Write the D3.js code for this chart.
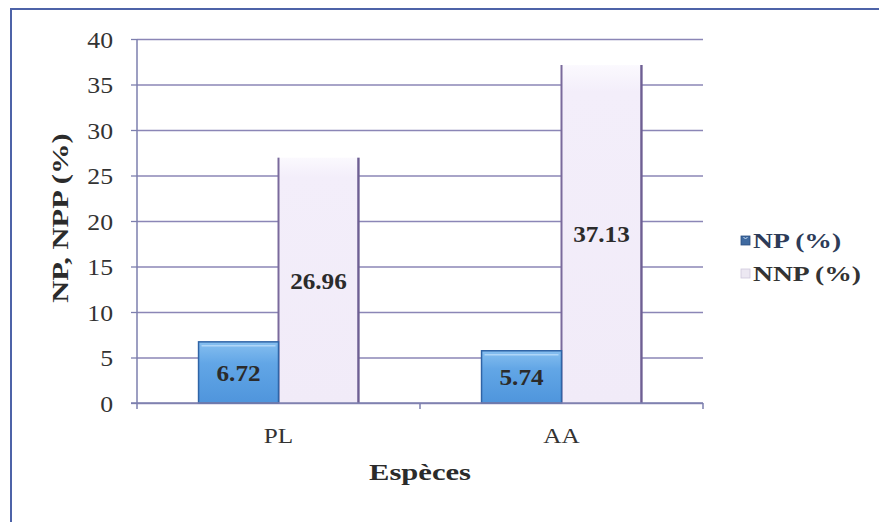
<!DOCTYPE html>
<html>
<head>
<meta charset="utf-8">
<script src="https://cdn.jsdelivr.net/npm/d3@7"></script>
<style>
  html, body { margin: 0; padding: 0; background: #ffffff; }
  svg { display: block; }
  svg text { font-family: "Liberation Serif", "Times New Roman", serif; }
</style>
</head>
<body>
<svg id="chart" width="879" height="522"></svg>
<script>
// Species and measured percentages
const categories = ["PL", "AA"];
const seriesNames = ["NP (%)", "NNP (%)"];
const npValues = [6.72, 5.74];
const nnpValues = [26.96, 37.13];
const yTicks = [0, 5, 10, 15, 20, 25, 30, 35, 40];
const yTitle = "NP, NPP (%)";
const xTitle = "Espèces";

const serif = "'Liberation Serif', 'Times New Roman', serif";
const svg = d3.select("#chart");
const defs = svg.append("defs");

// Outer frame
svg.append("rect")
  .attr("x", 11).attr("y", 9)
  .attr("width", 900).attr("height", 600)
  .attr("fill", "none")
  .attr("stroke", "#4d63a8")
  .attr("stroke-width", 2);

const plot = { left: 137, right: 703, top: 39, bottom: 403 };

const y = d3.scaleLinear().domain([0, 40]).range([plot.bottom, plot.top]);
const x = d3.scaleBand().domain(categories).range([plot.left, plot.right]).paddingInner(0).paddingOuter(0);
const xs = d3.scaleBand().domain(seriesNames).range([0, x.bandwidth()]).paddingInner(0).paddingOuter(0.77);

// Gradients for the two series
const npGrad = defs.append("linearGradient").attr("id", "npGrad").attr("x1", 0).attr("y1", 0).attr("x2", 0).attr("y2", 1);
npGrad.append("stop").attr("offset", "0%").attr("stop-color", "#86bff0");
npGrad.append("stop").attr("offset", "35%").attr("stop-color", "#62a6e6");
npGrad.append("stop").attr("offset", "100%").attr("stop-color", "#4f95dc");

const nnpGrad = defs.append("linearGradient").attr("id", "nnpGrad").attr("x1", 0).attr("y1", 0).attr("x2", 0).attr("y2", 1);
nnpGrad.append("stop").attr("offset", "0%").attr("stop-color", "#fbf9fe");
nnpGrad.append("stop").attr("offset", "8%").attr("stop-color", "#f3eefa");
nnpGrad.append("stop").attr("offset", "100%").attr("stop-color", "#f1ebf8");

const gridColor = "#8b86b6";
const axisColor = "#7d7fae";
const textColor = "#333333";

// Horizontal gridlines with outside ticks
const yAxis = d3.axisLeft(y).tickValues(yTicks).tickSize(-(plot.right - plot.left)).tickSizeOuter(0).tickFormat("");
const gY = svg.append("g").attr("transform", `translate(${plot.left},0)`).call(yAxis)
  .attr("font-family", serif);
gY.select(".domain").remove();
gY.selectAll(".tick line").attr("stroke", gridColor).attr("stroke-width", 1.3);
gY.selectAll(".tick").append("line")
  .attr("x1", -6).attr("x2", 0).attr("stroke", axisColor).attr("stroke-width", 1.3);

// Tick labels, slightly widened serif
gY.selectAll(".tick").append("text")
  .attr("fill", textColor)
  .attr("font-family", serif)
  .attr("font-size", 23)
  .attr("text-anchor", "end")
  .attr("dominant-baseline", "central")
  .attr("transform", "translate(-24,0) scale(1.12,1)")
  .attr("x", 0)
  .text(d => d);

// Bars
const groups = svg.append("g").selectAll("g")
  .data(categories)
  .join("g")
  .attr("transform", d => `translate(${x(d)},0)`);

// NNP bars (pale, dark purple sides)
groups.each(function (c, i) {
  const g = d3.select(this);
  const x0 = xs("NNP (%)"), w = xs.bandwidth();
  const yTop = y(nnpValues[i]);
  g.append("rect")
    .attr("x", x0).attr("y", yTop)
    .attr("width", w).attr("height", y(0) - yTop)
    .attr("fill", "url(#nnpGrad)");
  g.append("line").attr("x1", x0).attr("x2", x0).attr("y1", yTop).attr("y2", y(0))
    .attr("stroke", "#7a6a9c").attr("stroke-width", 2);
  g.append("line").attr("x1", x0 + w).attr("x2", x0 + w).attr("y1", yTop).attr("y2", y(0))
    .attr("stroke", "#6e5f93").attr("stroke-width", 2.4);
});

// NP bars (blue with bevel)
groups.each(function (c, i) {
  const g = d3.select(this);
  const x0 = xs("NP (%)"), w = xs.bandwidth();
  const yTop = y(npValues[i]);
  g.append("rect")
    .attr("x", x0).attr("y", yTop)
    .attr("width", w).attr("height", y(0) - yTop)
    .attr("fill", "url(#npGrad)")
    .attr("stroke", "#2f64a6").attr("stroke-width", 1.5);
  g.append("line")
    .attr("x1", x0 + 3).attr("x2", x0 + w - 3)
    .attr("y1", yTop + 4).attr("y2", yTop + 4)
    .attr("stroke", "#b5dafa").attr("stroke-width", 1.5).attr("opacity", 0.9);
});

// Value labels centred in each bar
groups.each(function (c, i) {
  const g = d3.select(this);
  const items = [
    { name: "NP (%)", v: npValues[i] },
    { name: "NNP (%)", v: nnpValues[i] }
  ];
  items.forEach(it => {
    const cx = xs(it.name) + xs.bandwidth() / 2;
    const cy = (y(it.v) + y(0)) / 2;
    g.append("text")
      .attr("transform", `translate(${cx},${cy}) scale(1.05,1)`)
      .attr("text-anchor", "middle")
      .attr("dominant-baseline", "central")
      .attr("font-size", 24)
      .attr("font-weight", "bold")
      .attr("fill", "#2b2b2b")
      .text(it.v.toFixed(2));
  });
});

// Y axis line
svg.append("line")
  .attr("x1", plot.left).attr("x2", plot.left)
  .attr("y1", plot.top).attr("y2", plot.bottom)
  .attr("stroke", axisColor).attr("stroke-width", 1.5);

// X axis line with category boundary ticks
svg.append("line")
  .attr("x1", plot.left - 6).attr("x2", plot.right)
  .attr("y1", plot.bottom).attr("y2", plot.bottom)
  .attr("stroke", axisColor).attr("stroke-width", 1.5);
const boundaries = categories.map(c => x(c)).concat([x(categories[categories.length - 1]) + x.bandwidth()]);
svg.append("g").selectAll("line").data(boundaries).join("line")
  .attr("x1", d => d).attr("x2", d => d)
  .attr("y1", plot.bottom).attr("y2", plot.bottom + 6)
  .attr("stroke", axisColor).attr("stroke-width", 1.5);

// Category labels
svg.append("g").selectAll("text").data(categories).join("text")
  .attr("transform", d => `translate(${x(d) + x.bandwidth() / 2},443) scale(1.2,1)`)
  .attr("text-anchor", "middle")
  .attr("font-size", 21)
  .attr("fill", textColor)
  .text(d => d);

// Axis titles
svg.append("text")
  .attr("transform", "translate(420,480) scale(1.33,1)")
  .attr("text-anchor", "middle")
  .attr("font-size", 23)
  .attr("font-weight", "bold")
  .attr("fill", "#2b2b2b")
  .text(xTitle);

svg.append("text")
  .attr("transform", "translate(68,218) rotate(-90) scale(1.33,1)")
  .attr("text-anchor", "middle")
  .attr("font-size", 23)
  .attr("font-weight", "bold")
  .attr("fill", "#2b2b2b")
  .text(yTitle);

// Legend
const legend = svg.append("g").attr("transform", "translate(741,0)");
const legendRows = [
  { name: seriesNames[0], cy: 241, fill: "#3f6aa0", stroke: "#2b4f80", color: "#2d3b58" },
  { name: seriesNames[1], cy: 274, fill: "#ece8f2", stroke: "#cfc8dc", color: "#333333" }
];
legendRows.forEach(r => {
  legend.append("rect")
    .attr("x", 0).attr("y", r.cy - 5)
    .attr("width", 9).attr("height", 9)
    .attr("fill", r.fill).attr("stroke", r.stroke).attr("stroke-width", 0.8);
  legend.append("text")
    .attr("transform", `translate(12,${r.cy}) scale(1.38,1)`)
    .attr("dominant-baseline", "central")
    .attr("font-size", 20)
    .attr("font-weight", "bold")
    .attr("fill", r.color)
    .text(r.name);
});
// small highlight notch on the NP legend swatch
legend.append("path")
  .attr("d", "M2.5,237 L4.5,239 L6.5,237")
  .attr("fill", "none").attr("stroke", "#c9def4").attr("stroke-width", 1);
</script>
</body>
</html>
